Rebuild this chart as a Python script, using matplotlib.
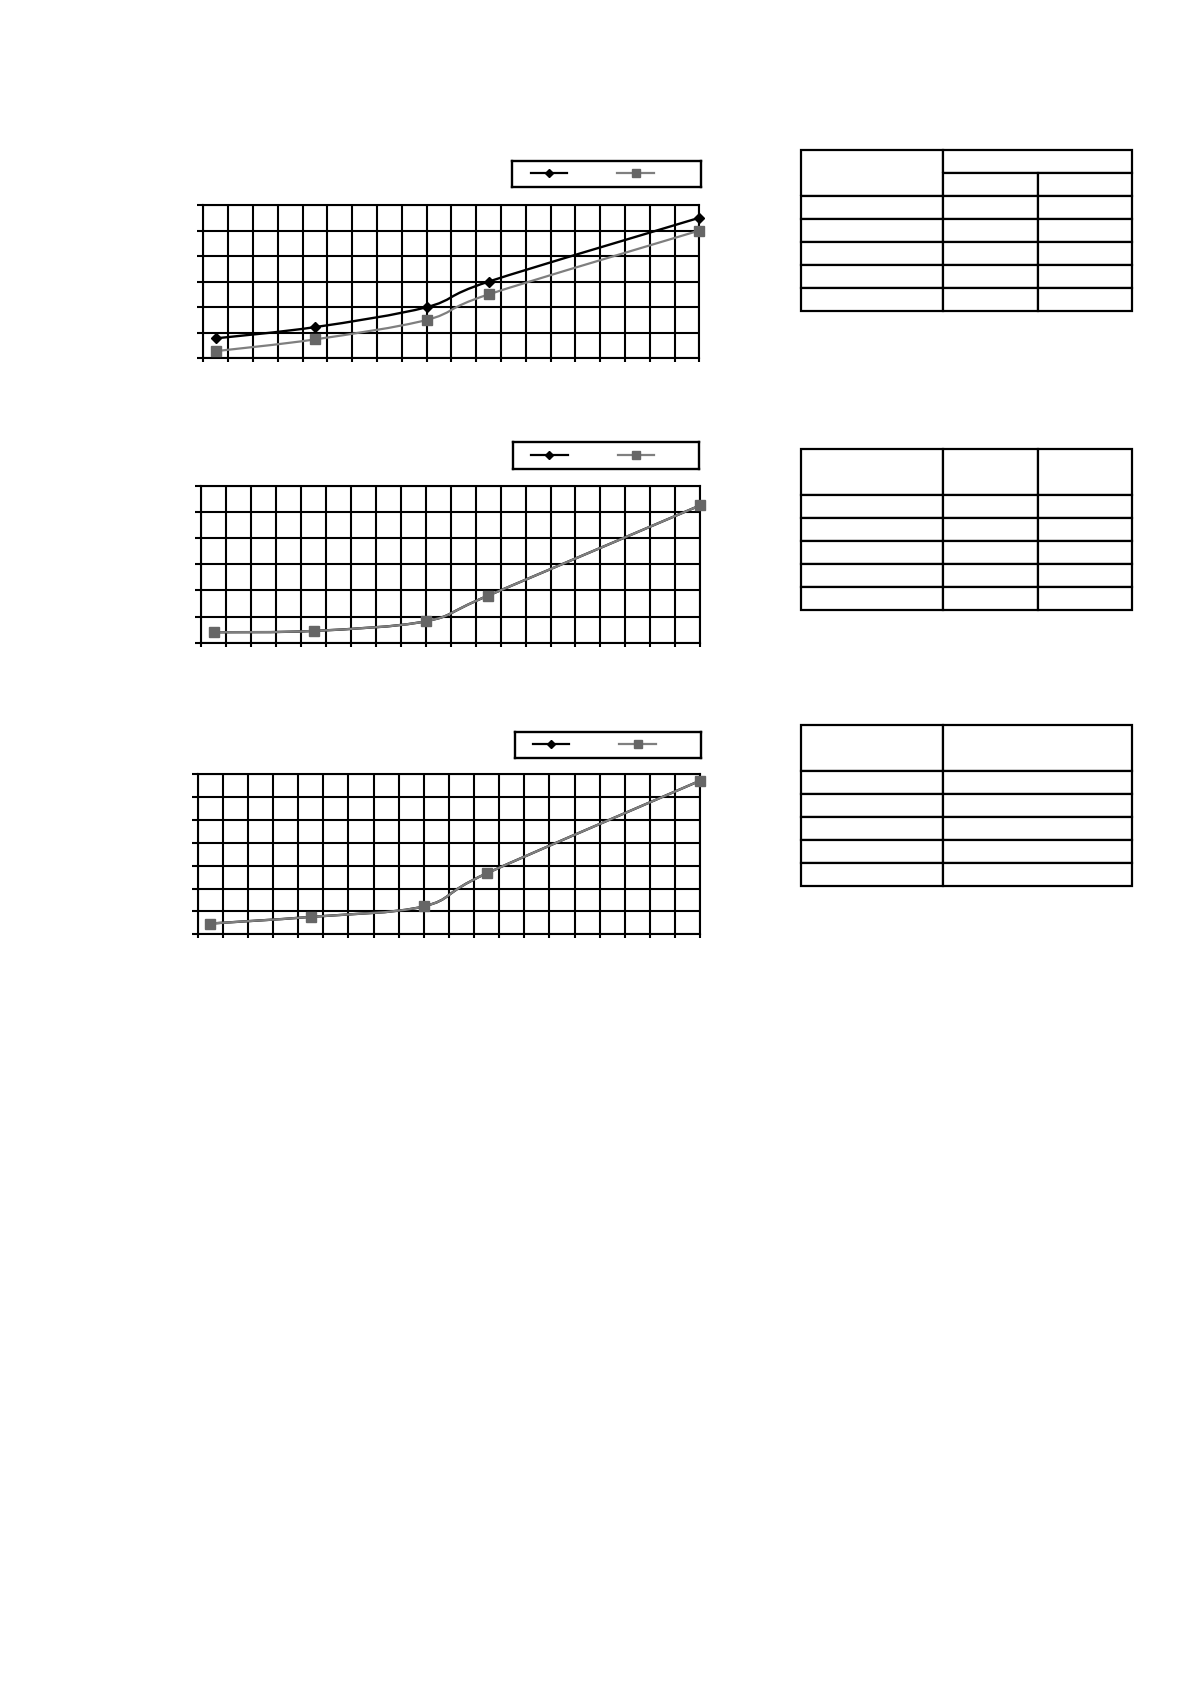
import matplotlib
matplotlib.use('Agg')
import matplotlib.pyplot as plt
from matplotlib.path import Path
from matplotlib.patches import PathPatch
from matplotlib.lines import Line2D
import numpy as np

W, H = 1190, 1684

# ---------------- data ----------------
x_positions = [0.5, 4.5, 9.0, 11.5, 20.0]
x_ticks = list(range(0, 21))

chart1_black = [0.78, 1.22, 2.0, 3.0, 5.5]
chart1_gray = [0.28, 0.74, 1.5, 2.5, 5.0]
chart1_yticks = [0, 1, 2, 3, 4, 5, 6]

chart2_black = [0.4, 0.45, 0.82, 1.8, 5.25]
chart2_gray = [0.4, 0.45, 0.82, 1.8, 5.25]
chart2_yticks = [0, 1, 2, 3, 4, 5, 6]

chart3_black = [0.47, 0.76, 1.22, 2.66, 6.71]
chart3_gray = [0.47, 0.76, 1.22, 2.66, 6.71]
chart3_yticks = [0, 1, 2, 3, 4, 5, 6, 7]

legend_labels = ['', '']

table1_cells = [['', '', ''], ['', '', ''], ['', '', ''], ['', '', ''],
                ['', '', ''], ['', '', ''], ['', '', '']]
table2_cells = [['', '', ''], ['', '', ''], ['', '', ''], ['', '', ''],
                ['', '', ''], ['', '', '']]
table3_cells = [['', ''], ['', ''], ['', ''], ['', ''], ['', ''], ['', '']]

BLACK = '#000000'
GRAY_LINE = '#7f7f7f'
GRAY_MARK = '#666666'
GRID_LW = 1.5

fig = plt.figure(figsize=(W / 100, H / 100), dpi=100)
fig.patch.set_facecolor('white')


def px_axes(x0, y0, x1, y1):
    return fig.add_axes([x0 / W, 1 - y1 / H, (x1 - x0) / W, (y1 - y0) / H])


def smooth_path(xs, ys):
    pts = np.column_stack([xs, ys]).astype(float)
    n = len(pts)
    verts = [pts[0]]
    codes = [Path.MOVETO]
    for i in range(n - 1):
        p0 = pts[i - 1] if i > 0 else pts[i]
        p1 = pts[i]
        p2 = pts[i + 1]
        p3 = pts[i + 2] if i + 2 < n else pts[i + 1]
        c1 = p1 + (p2 - p0) / 6.0
        c2 = p2 - (p3 - p1) / 6.0
        verts += [c1, c2, p2]
        codes += [Path.CURVE4] * 3
    return Path(verts, codes)


def draw_chart(rect, ytop, yticks, black, gray, legend_rect):
    ax = px_axes(*rect)
    ax.set_xlim(0, 20)
    ax.set_ylim(0, ytop)
    ax.set_xticks(x_ticks)
    ax.set_yticks(yticks)
    ax.set_axisbelow(True)
    ax.grid(True, color='black', linewidth=GRID_LW)
    ax.tick_params(axis='x', direction='out', length=2.8, width=GRID_LW,
                   labelbottom=False, color='black')
    ax.tick_params(axis='y', direction='out', length=4.2, width=GRID_LW,
                   labelleft=False, color='black')
    for s in ax.spines.values():
        s.set_linewidth(GRID_LW)
        s.set_color('black')

    ax.add_patch(PathPatch(smooth_path(x_positions, black), facecolor='none',
                           edgecolor=BLACK, linewidth=1.7, zorder=3, clip_on=False))
    ax.plot(x_positions, black, linestyle='none', marker='D', markersize=5.2,
            color=BLACK, clip_on=False, zorder=4)
    ax.add_patch(PathPatch(smooth_path(x_positions, gray), facecolor='none',
                           edgecolor=GRAY_LINE, linewidth=1.6, zorder=5, clip_on=False))
    ax.plot(x_positions, gray, linestyle='none', marker='s', markersize=7.8,
            color=GRAY_MARK, clip_on=False, zorder=6)

    # legend frame + legend entries
    lx0, ly0, lx1, ly1 = legend_rect
    lax = px_axes(lx0, ly0, lx1, ly1)
    lax.set_xticks([])
    lax.set_yticks([])
    for s in lax.spines.values():
        s.set_linewidth(1.7)
        s.set_color('black')
    handles = [
        Line2D([], [], color=BLACK, linewidth=1.6, marker='D', markersize=3.6),
        Line2D([], [], color=GRAY_LINE, linewidth=1.6, marker='s', markersize=5.2,
               markerfacecolor=GRAY_MARK, markeredgecolor=GRAY_MARK),
    ]
    fs = 10
    lax.legend(handles, legend_labels, loc='center left',
               bbox_to_anchor=(18.4 / (lx1 - lx0), 0.5), frameon=False,
               borderpad=0, borderaxespad=0, ncol=2, numpoints=1,
               fontsize=fs, handlelength=26.35 / fs, handletextpad=0,
               columnspacing=36.0 / fs)
    return ax


def draw_table(rect, cells, col_widths, row_heights, edges=None):
    ax = px_axes(*rect)
    ax.axis('off')
    tab = ax.table(cellText=cells, colWidths=col_widths, cellLoc='center',
                   bbox=[0, 0, 1, 1])
    tab.auto_set_font_size(False)
    tab.set_clip_on(False)
    for (r, c), cell in tab.get_celld().items():
        cell.set_height(row_heights[r])
        cell.set_linewidth(1.6)
        cell.set_edgecolor('black')
        cell.set_clip_on(False)
        if edges and (r, c) in edges:
            cell.visible_edges = edges[(r, c)]
    return tab


# ---------------- charts ----------------
draw_chart((203.3, 205.0, 699.3, 358.3), 6, chart1_yticks,
           chart1_black, chart1_gray, (512.3, 160.7, 700.5, 186.7))
draw_chart((201.3, 485.7, 700.2, 642.7), 6, chart2_yticks,
           chart2_black, chart2_gray, (512.7, 442.3, 699.1, 469.3))
draw_chart((197.7, 774.0, 700.2, 934.3), 7, chart3_yticks,
           chart3_black, chart3_gray, (514.5, 731.7, 701.2, 758.3))

# ---------------- tables ----------------
draw_table((800.7, 149.7, 1132.3, 311.0), table1_cells, [142, 95, 94.6],
           [23.3, 22.7, 23, 23.3, 23, 23, 23],
           edges={(0, 0): 'LTR', (1, 0): 'LRB', (0, 1): 'LTB', (0, 2): 'TRB'})
draw_table((800.7, 448.7, 1132.3, 610.0), table2_cells, [142, 95, 94.6],
           [46, 23, 23, 23.6, 22.4, 23.3])
draw_table((800.7, 725.0, 1132.3, 886.0), table3_cells, [142, 189.6],
           [46, 22.7, 23.3, 23.3, 23, 22.7])

fig.savefig('out.png', dpi=100, facecolor='white')
